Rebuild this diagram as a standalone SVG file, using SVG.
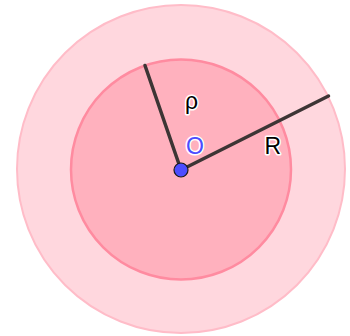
<svg xmlns="http://www.w3.org/2000/svg" width="350" height="336" viewBox="0 0 350 336">
<style>
.lbl{font-family:"Liberation Sans",Arial,sans-serif;font-size:23px;stroke:#ffffff;stroke-width:3;paint-order:stroke;stroke-linejoin:round}
.seg{stroke:#3d3535;stroke-width:3.5;stroke-linecap:round}
</style>
<rect width="350" height="336" fill="#ffffff"/>
<g id="outer-circle"><circle cx="181" cy="169" r="164" fill="#FFD7DE" stroke="#FFBCC8" stroke-width="2"/></g>
<g id="inner-circle"><circle cx="181" cy="169.5" r="110" fill="#FFB1BE" stroke="#FF8BA0" stroke-width="2.5"/></g>
<g id="connectors">
<line class="seg" x1="181" y1="170" x2="145" y2="65.5"/>
<line class="seg" x1="181" y1="170" x2="328.5" y2="96"/>
</g>
<g id="center-O">
<circle cx="181" cy="170" r="7" fill="#4D4DFF" stroke="#1a1a1a" stroke-width="1.2"/>
<text class="lbl" x="186" y="153.5" fill="#4D4DFF">O</text>
</g>
<g id="label-rho"><text class="lbl" x="185" y="109" fill="#000000">ρ</text></g>
<g id="label-R"><text class="lbl" x="264.5" y="153.5" fill="#000000">R</text></g>
</svg>
